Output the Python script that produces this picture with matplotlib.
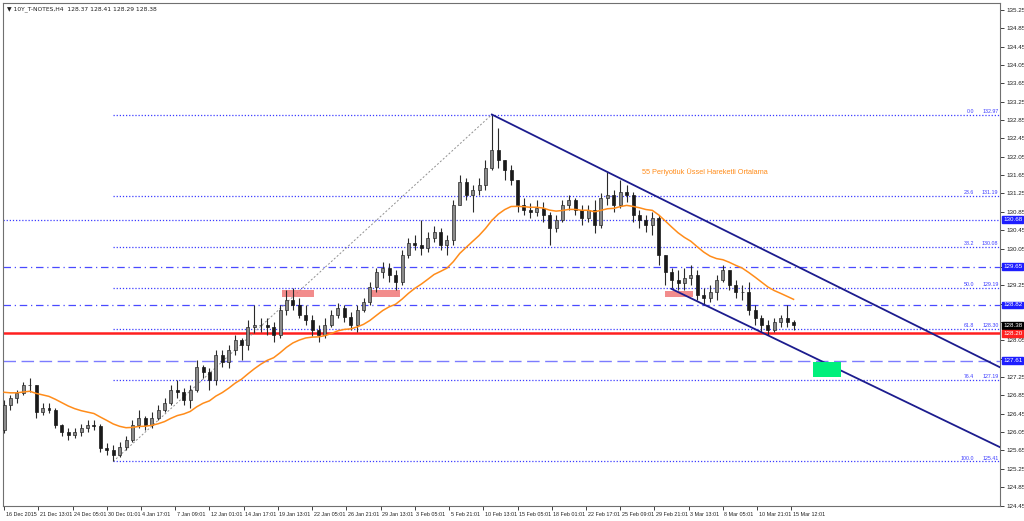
import numpy as np
import pandas as pd
import matplotlib
matplotlib.use("Agg")
import matplotlib.pyplot as plt
import matplotlib.transforms as mtransforms

plt.rcParams['font.family'] = ['Liberation Sans', 'DejaVu Sans']

# 10Y T-Notes, one candle = 3 H4 bars
bars_per_candle = 3
first_open = 126.10
highs = [126.75, 126.86, 126.97, 127.14, 127.23, 127.08, 126.69, 126.69, 126.58, 126.23,
         126.14, 126.14, 126.23, 126.32, 126.32, 126.23, 125.82, 125.77, 125.84, 125.97,
         126.32, 126.54, 126.41, 126.49, 126.64, 126.80, 127.08, 127.19, 127.01, 127.08,
         127.63, 127.52, 127.45, 127.84, 127.84, 127.95, 128.17, 128.10, 128.50, 128.82,
         128.54, 128.54, 128.45, 128.82, 129.15, 129.19, 128.98, 128.82, 128.60, 128.39,
         128.54, 128.71, 128.86, 128.82, 128.67, 128.82, 128.98, 129.32, 129.63, 129.76,
         129.74, 129.59, 130.02, 130.28, 130.35, 130.68, 130.41, 130.54, 130.50, 130.35,
         131.11, 131.66, 131.59, 131.44, 131.59, 131.98, 132.97, 132.68, 131.98, 131.87,
         131.55, 131.15, 131.05, 131.11, 131.07, 130.85, 130.78, 131.11, 131.22, 131.15,
         131.00, 131.00, 131.11, 131.26, 131.72, 131.33, 131.55, 131.44, 131.29, 130.89,
         130.78, 130.85, 130.78, 129.91, 129.63, 129.59, 129.63, 129.70, 129.59, 129.19,
         129.26, 129.48, 129.70, 129.59, 129.37, 129.26, 129.32, 128.82, 128.60, 128.50,
         128.54, 128.60, 128.82, 128.50]
lows = [126.04, 126.54, 126.69, 126.86, 126.93, 126.36, 126.43, 126.47, 126.14, 125.97,
        125.88, 125.93, 125.97, 126.06, 126.10, 125.62, 125.56, 125.41, 125.51, 125.67,
        125.84, 126.14, 126.10, 126.14, 126.32, 126.49, 126.64, 126.80, 126.64, 126.58,
        126.93, 127.23, 126.97, 127.08, 127.47, 127.45, 127.73, 127.63, 127.84, 128.22,
        128.24, 128.17, 128.02, 128.10, 128.60, 128.71, 128.54, 128.39, 128.15, 128.02,
        128.10, 128.34, 128.54, 128.45, 128.28, 128.24, 128.67, 128.82, 129.11, 129.41,
        129.32, 129.15, 129.26, 129.85, 130.02, 129.91, 129.98, 130.20, 130.02, 129.91,
        130.13, 131.00, 131.11, 130.85, 131.22, 131.33, 131.76, 131.81, 131.55, 131.44,
        130.85, 130.78, 130.72, 130.76, 130.63, 130.13, 130.41, 130.63, 130.89, 130.78,
        130.57, 130.63, 130.39, 130.50, 131.00, 130.85, 130.94, 131.07, 130.63, 130.50,
        130.41, 130.35, 129.70, 129.26, 129.19, 129.15, 129.15, 129.26, 128.93, 128.82,
        128.89, 128.93, 129.32, 129.15, 128.98, 128.93, 128.60, 128.39, 128.24, 128.17,
        128.24, 128.34, 128.34, 128.28]
closes = [126.64, 126.80, 126.91, 127.08, 127.08, 126.49, 126.58, 126.54, 126.21, 126.06,
          125.99, 126.06, 126.14, 126.21, 126.19, 125.71, 125.67, 125.56, 125.73, 125.88,
          126.21, 126.36, 126.21, 126.36, 126.54, 126.69, 126.97, 126.93, 126.75, 126.97,
          127.47, 127.36, 127.19, 127.73, 127.58, 127.84, 128.06, 127.95, 128.34, 128.39,
          128.39, 128.34, 128.17, 128.71, 128.93, 128.82, 128.60, 128.50, 128.28, 128.17,
          128.39, 128.60, 128.76, 128.56, 128.39, 128.71, 128.89, 129.22, 129.54, 129.63,
          129.48, 129.32, 129.91, 130.17, 130.13, 130.07, 130.28, 130.41, 130.13, 130.24,
          131.00, 131.50, 131.22, 131.33, 131.44, 131.81, 132.20, 131.98, 131.76, 131.55,
          131.00, 130.89, 130.85, 130.94, 130.78, 130.50, 130.68, 131.00, 131.11, 130.89,
          130.72, 130.89, 130.57, 131.15, 131.22, 131.00, 131.29, 131.22, 130.78, 130.68,
          130.57, 130.72, 129.91, 129.54, 129.37, 129.30, 129.41, 129.48, 129.04, 128.98,
          129.11, 129.37, 129.59, 129.26, 129.11, 129.11, 128.71, 128.54, 128.39, 128.28,
          128.45, 128.54, 128.45, 128.38]

ema_period = 55
ema_start = 126.95

date_labels = ["16 Dec 2015", "21 Dec 13:01", "24 Dec 05:01", "30 Dec 01:01", "4 Jan 17:01",
               "7 Jan 09:01", "12 Jan 01:01", "14 Jan 17:01", "19 Jan 13:01", "22 Jan 05:01",
               "26 Jan 21:01", "29 Jan 13:01", "3 Feb 05:01", "5 Feb 21:01", "10 Feb 13:01",
               "15 Feb 05:01", "18 Feb 01:01", "22 Feb 17:01", "25 Feb 09:01", "29 Feb 21:01",
               "3 Mar 13:01", "8 Mar 05:01", "10 Mar 21:01", "15 Mar 12:01"]
label_step = 16  # H4 bars between labels

fib_ratios = [0.0, 23.6, 38.2, 50.0, 61.8, 76.4, 100.0]

# horizontal levels drawn over the whole chart
level_prices = [130.68, 129.65, 128.82, 128.20, 127.61]
level_kinds = ["dot", "dashdot", "dashdot", "solid", "dash"]

# channel lines: (bar, price) pairs
upper_line = [(228, 132.97), (466, 127.45)]
lower_line = [(312, 129.17), (466, 125.71)]

# resistance boxes (bar from, bar to, price low, price high)
red_zones = [(130, 145, 129.00, 129.15), (171, 185, 129.00, 129.15), (309, 322, 128.99, 129.13)]
green_zone = (378, 391, 127.25, 127.58)

# price boxes on the right scale
box_prices = [130.68, 129.65, 128.82, 128.38, 128.20, 127.61]
box_colors = ['#1e1eff', '#1e1eff', '#1e1eff', '#000000', '#ff2020', '#1e1eff']

ema_text = "55 Periyotluk Üssel Hareketli Ortalama"
title_text = "\u25bc 10Y_T-NOTES,H4  128.37 128.41 128.29 128.38"

y_min, y_max = 124.44, 135.40
x_min, x_max = -0.5, 465.5

# ---------------------------------------------------------------
fig = plt.figure(figsize=(10.24, 5.21), dpi=100)
ax = fig.add_axes([3 / 1024, 1 - 506 / 521, 997 / 1024, 503 / 521])
ax.set_xlim(x_min, x_max)
ax.set_ylim(y_min, y_max)

opens = np.array([first_open] + closes[:-1])
hi = np.array(highs)
lo = np.array(lows)
cl = np.array(closes)
xs = np.arange(len(cl)) * bars_per_candle
up = cl >= opens

ax.vlines(xs, lo, hi, color='#2a2a2a', lw=0.8, zorder=4)
ax.bar(xs[up], (cl - opens)[up], bottom=opens[up], width=1.4, color='#8a8a8a',
       edgecolor='#2a2a2a', lw=0.5, zorder=5)
ax.bar(xs[~up], (cl - opens)[~up], bottom=opens[~up], width=1.4, color='#1a1a1a',
       edgecolor='#1a1a1a', lw=0.5, zorder=5)

# EMA 55 on H4, scaled to the 3-bar candles
alpha = 1 - (1 - 2 / (ema_period + 1)) ** bars_per_candle
ema = pd.Series([ema_start] + closes).ewm(alpha=alpha, adjust=False).mean().values[1:]
ax.plot(xs, ema, color='#ff8c1a', lw=1.1, zorder=6)
ax.text(298, 131.72, ema_text, color='#ff8c1a', fontsize=5.3, va='center', ha='left')

# fibonacci from the low to the high
i_lo = int(np.argmin(lo))
i_hi = int(np.argmax(hi))
f_lo, f_hi = lo[i_lo], hi[i_hi]
ax.plot([xs[i_lo], xs[i_hi]], [f_lo, f_hi], color='#909090', lw=0.7,
        linestyle=(0, (2, 2)), zorder=3)
trans_r = mtransforms.blended_transform_factory(ax.transAxes, ax.transData)
for r in fib_ratios:
    p = f_hi - r / 100 * (f_hi - f_lo)
    ax.plot([xs[i_lo], x_max], [p, p], color='#3c3cff', lw=0.9,
            linestyle=(0, (1, 1.5)), zorder=2)
    ax.text(0.974, p + 0.02, "%.1f" % r, transform=trans_r, fontsize=3.8,
            color='#3c3cff', ha='right', va='bottom')
    ax.text(0.9985, p + 0.02, "%.2f" % p, transform=trans_r, fontsize=3.8,
            color='#3c3cff', ha='right', va='bottom')

styles = {"dot": dict(color='#3c3cff', lw=0.9, linestyle=(0, (1, 1.5))),
          "dashdot": dict(color='#4a4aff', lw=0.9, linestyle=(0, (6, 3, 1, 3))),
          "solid": dict(color='#ff2020', lw=1.8, linestyle='-'),
          "dash": dict(color='#7c7cff', lw=1.0, linestyle=(0, (9, 4)))}
for p, k in zip(level_prices, level_kinds):
    ax.axhline(p, zorder=2, **styles[k])

for line in (upper_line, lower_line):
    (xa, ya), (xb, yb) = line
    ax.plot([xa, xb], [ya, yb], color='#1c1c8e', lw=1.3, zorder=7)

for x0, x1, p0, p1 in red_zones:
    ax.fill_between([x0, x1], p0, p1, color='#f07878', alpha=0.85, lw=0, zorder=3)
gx0, gx1, gp0, gp1 = green_zone
ax.fill_between([gx0, gx1], gp0, gp1, color='#00f07c', lw=0, zorder=8)

# axes look
for s in ax.spines.values():
    s.set_color('#707070')
    s.set_linewidth(0.8)
ax.yaxis.tick_right()
yt = np.round(np.arange(124.45, 135.26, 0.4), 2)
ax.set_yticks(yt)
# scale labels hidden under the price boxes
ax.set_yticklabels(["" if min(abs(v - b) for b in box_prices) < 0.12 else "%.2f" % v
                    for v in yt])
ax.tick_params(axis='y', direction='out', length=3, width=0.6, labelsize=4.5,
               pad=1.5, colors='#202020')
xt = np.arange(len(date_labels)) * label_step
ax.set_xticks(xt)
ax.set_xticklabels(date_labels)
ax.tick_params(axis='x', direction='out', length=3, width=0.6, labelsize=3.9,
               pad=1.5, colors='#202020')
for lab in ax.get_xticklabels():
    lab.set_horizontalalignment('left')
    lab.set_transform(lab.get_transform() + mtransforms.ScaledTranslation(1.5 / 100, 0, fig.dpi_scale_trans))

for p, c in zip(box_prices, box_colors):
    ax.text(1.003, p, "%.2f" % p, transform=trans_r, fontsize=4.5, color='white',
            ha='left', va='center', clip_on=False, zorder=10,
            bbox=dict(boxstyle='square,pad=0.15', facecolor=c, edgecolor=c))

ax.text(0.004, 0.994, title_text, transform=ax.transAxes, fontsize=4.3,
        family=['DejaVu Sans'], ha='left', va='top', color='#202020')

fig.savefig("out.png", dpi=100, facecolor='white')
